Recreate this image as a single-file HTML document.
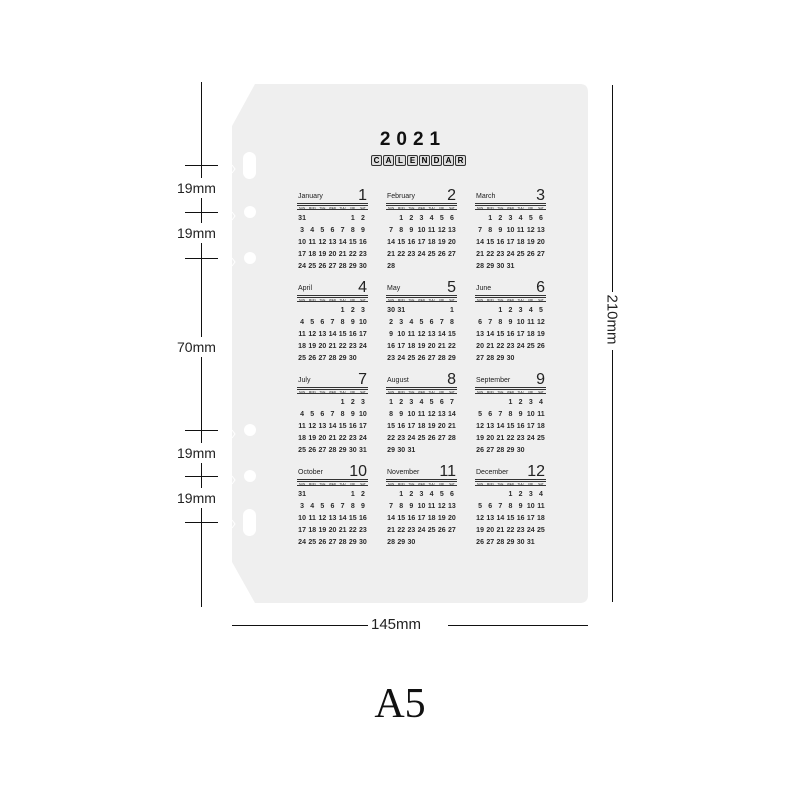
<!DOCTYPE html>
<html><head><meta charset="utf-8"><style>
*{margin:0;padding:0;box-sizing:border-box}
body{width:800px;height:800px;background:#fff;position:relative;overflow:hidden;font-family:"Liberation Sans",sans-serif}
.a{position:absolute}
.lbl{font-size:14px;color:#222}
.m{position:absolute;width:71px;color:#222}
.m .t{position:relative;height:16px;font-size:7px}
.m .t b{position:absolute;left:1px;bottom:2px;font-weight:normal;font-size:7px}
.m .t i{position:absolute;right:1px;bottom:-2px;font-style:normal;font-size:16px;line-height:16px}
.m .h{border-top:1px solid #333;border-bottom:1px solid #333;margin-top:1px;margin-bottom:3px;height:7px;font-size:3px;line-height:5px;display:grid;grid-template-columns:repeat(7,1fr);text-align:center;position:relative}
.m .h:before{content:"";position:absolute;left:0;right:0;top:1px;border-top:1px solid #333}
.m .h span{padding-top:2px}
.r{display:grid;grid-template-columns:repeat(7,1fr);text-align:center;font-size:7px;font-weight:bold;height:12px;line-height:12px;color:#2a2a2a}
.c{display:inline-block;width:11px;height:11px;border:1px solid #333;border-radius:2px;font-size:8px;font-weight:bold;line-height:9px;text-align:center;background:#ddd}
</style></head><body>
<svg class="a" style="left:0;top:0" width="800" height="800">
<path d="M255 84 H580 Q588 84 588 92 V595 Q588 603 580 603 H255 L232 562 V126 Z" fill="#efefef"/>
<rect x="243" y="152" width="13" height="27" rx="6.5" fill="#fff"/>
<circle cx="250" cy="212" r="6" fill="#fff"/>
<circle cx="250" cy="258" r="6" fill="#fff"/>
<circle cx="250" cy="430" r="6" fill="#fff"/>
<circle cx="250" cy="476" r="6" fill="#fff"/>
<rect x="243" y="509" width="13" height="27" rx="6.5" fill="#fff"/>
<path d="M232 165 l3 4 -3 4 M232 212 l3 4 -3 4 M232 258 l3 4 -3 4 M232 430 l3 4 -3 4 M232 476 l3 4 -3 4 M232 520 l3 4 -3 4" stroke="#fff" fill="none"/>
<g stroke="#111" stroke-width="1">
<line x1="201.5" y1="82" x2="201.5" y2="607"/>
<line x1="185" y1="165.5" x2="218" y2="165.5"/>
<line x1="185" y1="212.5" x2="218" y2="212.5"/>
<line x1="185" y1="258.5" x2="218" y2="258.5"/>
<line x1="185" y1="430.5" x2="218" y2="430.5"/>
<line x1="185" y1="476.5" x2="218" y2="476.5"/>
<line x1="185" y1="522.5" x2="218" y2="522.5"/>
<line x1="612.5" y1="85" x2="612.5" y2="292"/>
<line x1="612.5" y1="350" x2="612.5" y2="602"/>
<line x1="232" y1="625.5" x2="368" y2="625.5"/>
<line x1="448" y1="625.5" x2="588" y2="625.5"/>
</g>
<g fill="#fff"><rect x="178" y="178" width="48" height="20"/><rect x="178" y="223" width="48" height="20"/><rect x="178" y="337" width="48" height="20"/><rect x="178" y="443" width="48" height="20"/><rect x="178" y="488" width="48" height="20"/></g>
</svg>
<div class="a lbl" style="left:177px;top:180px">19mm</div>
<div class="a lbl" style="left:177px;top:225px">19mm</div>
<div class="a lbl" style="left:177px;top:339px">70mm</div>
<div class="a lbl" style="left:177px;top:445px">19mm</div>
<div class="a lbl" style="left:177px;top:490px">19mm</div>
<div class="a lbl" style="left:371px;top:616px;font-size:15px">145mm</div>
<div class="a lbl" style="left:584px;top:311px;font-size:15px;transform:rotate(90deg);transform-origin:center;width:56px;text-align:center">210mm</div>
<div class="a" style="left:340px;top:680px;width:120px;text-align:center;font-family:'Liberation Serif',serif;font-size:42px;color:#111">A5</div>
<div class="a" style="left:363px;top:129px;width:100px;text-align:center;font-size:19px;font-weight:bold;letter-spacing:6px;color:#111">2021</div>
<div class="a" style="left:371px;top:155px;display:flex;gap:1px">
<span class="c">C</span><span class="c">A</span><span class="c">L</span><span class="c">E</span><span class="c">N</span><span class="c">D</span><span class="c">A</span><span class="c">R</span>
</div>

<div class="m" style="left:297px;top:186px"><div class="t"><b>January</b><i>1</i></div><div class="h"><span>SUN</span><span>MON</span><span>TUE</span><span>WED</span><span>THU</span><span>FRI</span><span>SAT</span></div>
<div class="r"><span>31</span><span></span><span></span><span></span><span></span><span>1</span><span>2</span></div>
<div class="r"><span>3</span><span>4</span><span>5</span><span>6</span><span>7</span><span>8</span><span>9</span></div>
<div class="r"><span>10</span><span>11</span><span>12</span><span>13</span><span>14</span><span>15</span><span>16</span></div>
<div class="r"><span>17</span><span>18</span><span>19</span><span>20</span><span>21</span><span>22</span><span>23</span></div>
<div class="r"><span>24</span><span>25</span><span>26</span><span>27</span><span>28</span><span>29</span><span>30</span></div></div>

<div class="m" style="left:386px;top:186px"><div class="t"><b>February</b><i>2</i></div><div class="h"><span>SUN</span><span>MON</span><span>TUE</span><span>WED</span><span>THU</span><span>FRI</span><span>SAT</span></div>
<div class="r"><span></span><span>1</span><span>2</span><span>3</span><span>4</span><span>5</span><span>6</span></div>
<div class="r"><span>7</span><span>8</span><span>9</span><span>10</span><span>11</span><span>12</span><span>13</span></div>
<div class="r"><span>14</span><span>15</span><span>16</span><span>17</span><span>18</span><span>19</span><span>20</span></div>
<div class="r"><span>21</span><span>22</span><span>23</span><span>24</span><span>25</span><span>26</span><span>27</span></div>
<div class="r"><span>28</span><span></span><span></span><span></span><span></span><span></span><span></span></div></div>

<div class="m" style="left:475px;top:186px"><div class="t"><b>March</b><i>3</i></div><div class="h"><span>SUN</span><span>MON</span><span>TUE</span><span>WED</span><span>THU</span><span>FRI</span><span>SAT</span></div>
<div class="r"><span></span><span>1</span><span>2</span><span>3</span><span>4</span><span>5</span><span>6</span></div>
<div class="r"><span>7</span><span>8</span><span>9</span><span>10</span><span>11</span><span>12</span><span>13</span></div>
<div class="r"><span>14</span><span>15</span><span>16</span><span>17</span><span>18</span><span>19</span><span>20</span></div>
<div class="r"><span>21</span><span>22</span><span>23</span><span>24</span><span>25</span><span>26</span><span>27</span></div>
<div class="r"><span>28</span><span>29</span><span>30</span><span>31</span><span></span><span></span><span></span></div></div>

<div class="m" style="left:297px;top:278px"><div class="t"><b>April</b><i>4</i></div><div class="h"><span>SUN</span><span>MON</span><span>TUE</span><span>WED</span><span>THU</span><span>FRI</span><span>SAT</span></div>
<div class="r"><span></span><span></span><span></span><span></span><span>1</span><span>2</span><span>3</span></div>
<div class="r"><span>4</span><span>5</span><span>6</span><span>7</span><span>8</span><span>9</span><span>10</span></div>
<div class="r"><span>11</span><span>12</span><span>13</span><span>14</span><span>15</span><span>16</span><span>17</span></div>
<div class="r"><span>18</span><span>19</span><span>20</span><span>21</span><span>22</span><span>23</span><span>24</span></div>
<div class="r"><span>25</span><span>26</span><span>27</span><span>28</span><span>29</span><span>30</span><span></span></div></div>

<div class="m" style="left:386px;top:278px"><div class="t"><b>May</b><i>5</i></div><div class="h"><span>SUN</span><span>MON</span><span>TUE</span><span>WED</span><span>THU</span><span>FRI</span><span>SAT</span></div>
<div class="r"><span>30</span><span>31</span><span></span><span></span><span></span><span></span><span>1</span></div>
<div class="r"><span>2</span><span>3</span><span>4</span><span>5</span><span>6</span><span>7</span><span>8</span></div>
<div class="r"><span>9</span><span>10</span><span>11</span><span>12</span><span>13</span><span>14</span><span>15</span></div>
<div class="r"><span>16</span><span>17</span><span>18</span><span>19</span><span>20</span><span>21</span><span>22</span></div>
<div class="r"><span>23</span><span>24</span><span>25</span><span>26</span><span>27</span><span>28</span><span>29</span></div></div>

<div class="m" style="left:475px;top:278px"><div class="t"><b>June</b><i>6</i></div><div class="h"><span>SUN</span><span>MON</span><span>TUE</span><span>WED</span><span>THU</span><span>FRI</span><span>SAT</span></div>
<div class="r"><span></span><span></span><span>1</span><span>2</span><span>3</span><span>4</span><span>5</span></div>
<div class="r"><span>6</span><span>7</span><span>8</span><span>9</span><span>10</span><span>11</span><span>12</span></div>
<div class="r"><span>13</span><span>14</span><span>15</span><span>16</span><span>17</span><span>18</span><span>19</span></div>
<div class="r"><span>20</span><span>21</span><span>22</span><span>23</span><span>24</span><span>25</span><span>26</span></div>
<div class="r"><span>27</span><span>28</span><span>29</span><span>30</span><span></span><span></span><span></span></div></div>

<div class="m" style="left:297px;top:370px"><div class="t"><b>July</b><i>7</i></div><div class="h"><span>SUN</span><span>MON</span><span>TUE</span><span>WED</span><span>THU</span><span>FRI</span><span>SAT</span></div>
<div class="r"><span></span><span></span><span></span><span></span><span>1</span><span>2</span><span>3</span></div>
<div class="r"><span>4</span><span>5</span><span>6</span><span>7</span><span>8</span><span>9</span><span>10</span></div>
<div class="r"><span>11</span><span>12</span><span>13</span><span>14</span><span>15</span><span>16</span><span>17</span></div>
<div class="r"><span>18</span><span>19</span><span>20</span><span>21</span><span>22</span><span>23</span><span>24</span></div>
<div class="r"><span>25</span><span>26</span><span>27</span><span>28</span><span>29</span><span>30</span><span>31</span></div></div>

<div class="m" style="left:386px;top:370px"><div class="t"><b>August</b><i>8</i></div><div class="h"><span>SUN</span><span>MON</span><span>TUE</span><span>WED</span><span>THU</span><span>FRI</span><span>SAT</span></div>
<div class="r"><span>1</span><span>2</span><span>3</span><span>4</span><span>5</span><span>6</span><span>7</span></div>
<div class="r"><span>8</span><span>9</span><span>10</span><span>11</span><span>12</span><span>13</span><span>14</span></div>
<div class="r"><span>15</span><span>16</span><span>17</span><span>18</span><span>19</span><span>20</span><span>21</span></div>
<div class="r"><span>22</span><span>23</span><span>24</span><span>25</span><span>26</span><span>27</span><span>28</span></div>
<div class="r"><span>29</span><span>30</span><span>31</span><span></span><span></span><span></span><span></span></div></div>

<div class="m" style="left:475px;top:370px"><div class="t"><b>September</b><i>9</i></div><div class="h"><span>SUN</span><span>MON</span><span>TUE</span><span>WED</span><span>THU</span><span>FRI</span><span>SAT</span></div>
<div class="r"><span></span><span></span><span></span><span>1</span><span>2</span><span>3</span><span>4</span></div>
<div class="r"><span>5</span><span>6</span><span>7</span><span>8</span><span>9</span><span>10</span><span>11</span></div>
<div class="r"><span>12</span><span>13</span><span>14</span><span>15</span><span>16</span><span>17</span><span>18</span></div>
<div class="r"><span>19</span><span>20</span><span>21</span><span>22</span><span>23</span><span>24</span><span>25</span></div>
<div class="r"><span>26</span><span>27</span><span>28</span><span>29</span><span>30</span><span></span><span></span></div></div>

<div class="m" style="left:297px;top:462px"><div class="t"><b>October</b><i>10</i></div><div class="h"><span>SUN</span><span>MON</span><span>TUE</span><span>WED</span><span>THU</span><span>FRI</span><span>SAT</span></div>
<div class="r"><span>31</span><span></span><span></span><span></span><span></span><span>1</span><span>2</span></div>
<div class="r"><span>3</span><span>4</span><span>5</span><span>6</span><span>7</span><span>8</span><span>9</span></div>
<div class="r"><span>10</span><span>11</span><span>12</span><span>13</span><span>14</span><span>15</span><span>16</span></div>
<div class="r"><span>17</span><span>18</span><span>19</span><span>20</span><span>21</span><span>22</span><span>23</span></div>
<div class="r"><span>24</span><span>25</span><span>26</span><span>27</span><span>28</span><span>29</span><span>30</span></div></div>

<div class="m" style="left:386px;top:462px"><div class="t"><b>November</b><i>11</i></div><div class="h"><span>SUN</span><span>MON</span><span>TUE</span><span>WED</span><span>THU</span><span>FRI</span><span>SAT</span></div>
<div class="r"><span></span><span>1</span><span>2</span><span>3</span><span>4</span><span>5</span><span>6</span></div>
<div class="r"><span>7</span><span>8</span><span>9</span><span>10</span><span>11</span><span>12</span><span>13</span></div>
<div class="r"><span>14</span><span>15</span><span>16</span><span>17</span><span>18</span><span>19</span><span>20</span></div>
<div class="r"><span>21</span><span>22</span><span>23</span><span>24</span><span>25</span><span>26</span><span>27</span></div>
<div class="r"><span>28</span><span>29</span><span>30</span><span></span><span></span><span></span><span></span></div></div>

<div class="m" style="left:475px;top:462px"><div class="t"><b>December</b><i>12</i></div><div class="h"><span>SUN</span><span>MON</span><span>TUE</span><span>WED</span><span>THU</span><span>FRI</span><span>SAT</span></div>
<div class="r"><span></span><span></span><span></span><span>1</span><span>2</span><span>3</span><span>4</span></div>
<div class="r"><span>5</span><span>6</span><span>7</span><span>8</span><span>9</span><span>10</span><span>11</span></div>
<div class="r"><span>12</span><span>13</span><span>14</span><span>15</span><span>16</span><span>17</span><span>18</span></div>
<div class="r"><span>19</span><span>20</span><span>21</span><span>22</span><span>23</span><span>24</span><span>25</span></div>
<div class="r"><span>26</span><span>27</span><span>28</span><span>29</span><span>30</span><span>31</span><span></span></div></div>
</body></html>
